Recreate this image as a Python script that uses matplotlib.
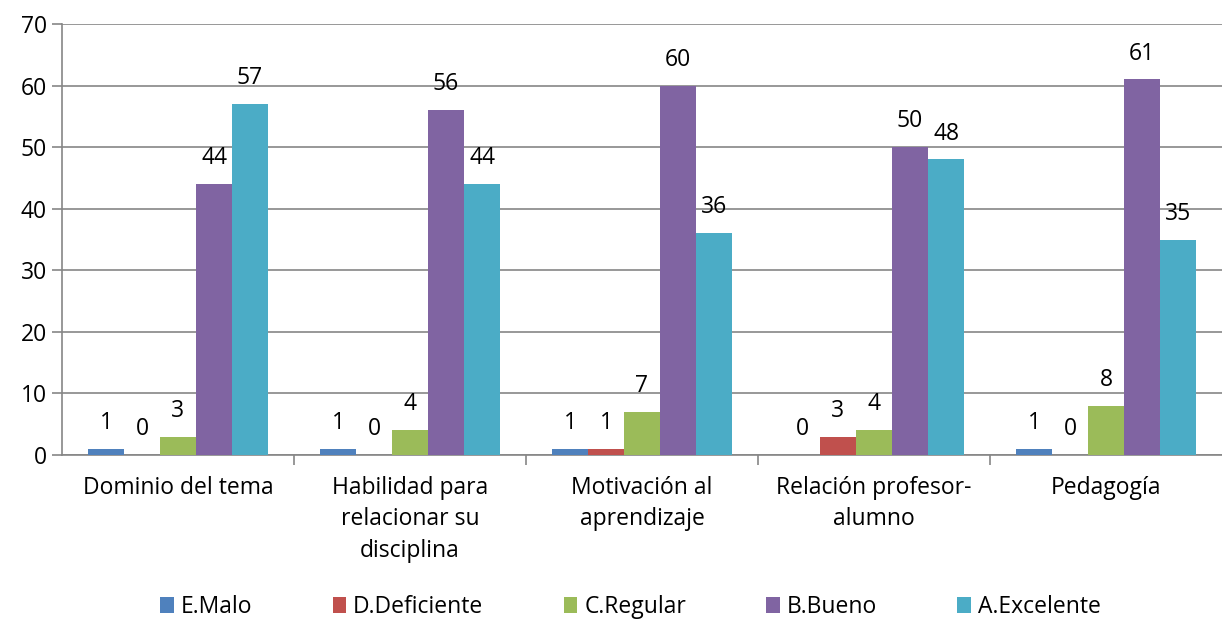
import matplotlib.pyplot as plt
import numpy as np

categories = [
    "Dominio del tema",
    "Habilidad para\nrelacionar su\ndisciplina",
    "Motivación al\naprendizaje",
    "Relación profesor-\nalumno",
    "Pedagogía",
]
series_names = ["E.Malo", "D.Deficiente", "C.Regular", "B.Bueno", "A.Excelente"]
malo = [1, 1, 1, 0, 1]
deficiente = [0, 0, 1, 3, 0]
regular = [3, 4, 7, 4, 8]
bueno = [44, 56, 60, 50, 61]
excelente = [57, 44, 36, 48, 35]
y_ticks = [0, 10, 20, 30, 40, 50, 60, 70]

colors = ["#4F81BD", "#C0504D", "#9BBB59", "#8064A2", "#4BACC6"]

plt.rcParams["font.family"] = ["Open Sans", "DejaVu Sans"]

fig = plt.figure(figsize=(12.22, 6.2), dpi=100)
ax = fig.add_axes([62 / 1222, 1 - 455 / 620, 1 - 62 / 1222, 431 / 620])

x = np.arange(len(categories))
width = 36 / 232
all_series = [malo, deficiente, regular, bueno, excelente]
for i, (name, vals, color) in enumerate(zip(series_names, all_series, colors)):
    pos = x + (i - 2) * width
    bars = ax.bar(pos, vals, width=width, color=color, label=name, zorder=3)
    for b, v in zip(bars, vals):
        ax.annotate(str(v), (b.get_x() + b.get_width() / 2, v),
                    xytext=(0, 10), textcoords="offset points",
                    ha="center", va="bottom", fontsize=16.5)

ax.set_xlim(-0.5, len(categories) - 0.5)
ax.set_ylim(0, 70)
ax.set_yticks(y_ticks)
ax.tick_params(axis="y", labelsize=16.5, length=7, color="#868686", width=1.2, pad=4)
ax.grid(axis="y", color="#868686", linewidth=1.2, zorder=0)
for s in ["top", "right"]:
    ax.spines[s].set_visible(False)
ax.spines["left"].set_color("#868686")
ax.spines["bottom"].set_color("#868686")
ax.spines["left"].set_linewidth(1.2)
ax.spines["bottom"].set_linewidth(1.2)

# category labels centered, ticks between categories
ax.set_xticks(x)
ax.set_xticklabels(categories, fontsize=16.5, linespacing=1.42)
ax.tick_params(axis="x", length=0, pad=15)
ax.set_xticks(np.arange(0.5, len(categories) - 0.5), minor=True)
ax.tick_params(axis="x", which="minor", length=7, color="#868686", width=1.2)

handles, labels = ax.get_legend_handles_labels()
fig.legend(handles, labels, loc="center", bbox_to_anchor=(0.516, 1 - 607 / 620),
           ncol=5, frameon=False, fontsize=16.5, handlelength=0.6, handleheight=0.7,
           handletextpad=0.3, columnspacing=3.5)

fig.savefig("out.png", dpi=100)
